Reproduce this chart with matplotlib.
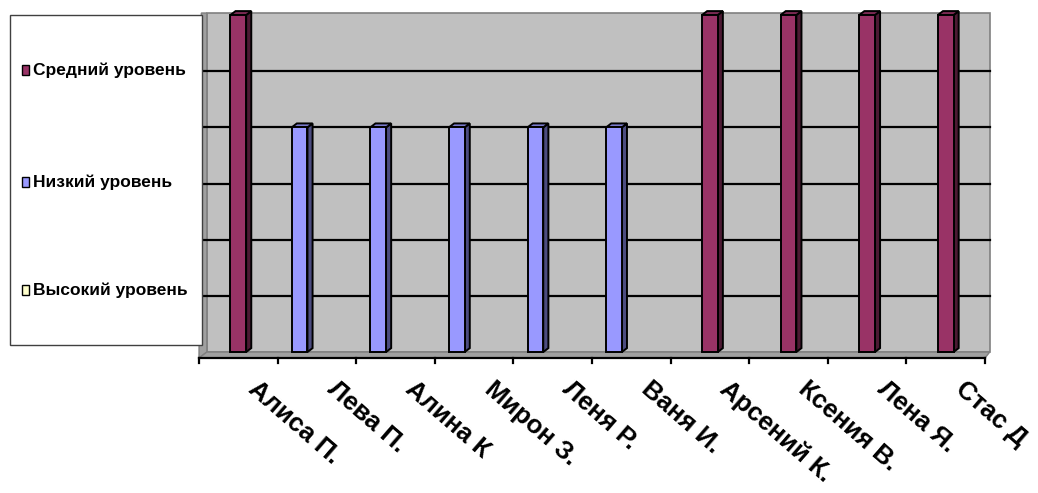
import matplotlib.pyplot as plt
from matplotlib.patches import Polygon, Rectangle
import numpy as np

students = ["Алиса П.", "Лева П.", "Алина К", "Мирон З.", "Леня Р.",
            "Ваня И.", "Арсений К.", "Ксения В.", "Лена Я.", "Стас Д"]
middle = [3, 0, 0, 0, 0, 0, 3, 3, 3, 3]
low = [0, 2, 2, 2, 2, 2, 0, 0, 0, 0]
high = [0, 0, 0, 0, 0, 0, 0, 0, 0, 0]
series_names = ["Средний уровень", "Низкий уровень", "Высокий уровень"]
colors = ["#993366", "#9999FF", "#FFFFCC"]
side_colors = ["#4C1A33", "#4C4C80", "#80806A"]
top_colors = ["#7A2952", "#7A7ACC", "#CCCCA3"]

fig = plt.figure(figsize=(10.38, 4.93), dpi=100)
# axes frame = front edge of the 3d floor
ax = fig.add_axes([199 / 1038, 1 - 358 / 493, 786 / 1038, 345 / 493])
ax.set_xlim(-0.5, 9.5)
ymin, ymax = -0.053, 3.018
ax.set_ylim(ymin, ymax)
ax.axis("off")

# back wall, left wall, floor
wl, wr = -0.40, 9.56
ax.add_patch(Polygon([(wl, 0), (wr, 0), (wr, ymax), (wl, ymax)], closed=True,
                     facecolor="#C0C0C0", edgecolor="#808080", lw=1.2, clip_on=False, zorder=0))
ax.add_patch(Polygon([(-0.5, ymin), (wl, 0), (wl, ymax), (-0.47, ymax)], closed=True,
                     facecolor="#A0A0A0", edgecolor="#808080", lw=1, clip_on=False, zorder=0))
ax.add_patch(Polygon([(-0.5, ymin), (9.5, ymin), (wr, 0), (wl, 0)], closed=True,
                     facecolor="#A0A0A0", edgecolor="#808080", lw=1, clip_on=False, zorder=0))
for g in np.arange(0.5, 3.0, 0.5):
    ax.plot([-0.47, wr], [g, g], color="black", lw=1.6, zorder=1, clip_on=False)

# bars with 3d side and top (zero values are not drawn)
x = np.arange(len(students))
width = 0.2
dx, dy = 0.065, 0.035
offsets = [0.0, -0.22, 0.22]
for vals, off, c, sc, tc in zip([middle, low, high], offsets, colors, side_colors, top_colors):
    vals = np.array(vals, dtype=float)
    shown = vals > 0
    if not shown.any():
        continue
    for xi, v in zip(x[shown], vals[shown]):
        l = xi + off - width / 2
        r = l + width
        ax.add_patch(Polygon([(r, 0), (r + dx, dy), (r + dx, v + dy), (r, v)], closed=True,
                             facecolor=sc, edgecolor="black", lw=1.4, zorder=3, clip_on=False))
        ax.add_patch(Polygon([(l, v), (r, v), (r + dx, v + dy), (l + dx, v + dy)], closed=True,
                             facecolor=tc, edgecolor="black", lw=1.4, zorder=3, clip_on=False))
    ax.bar(x[shown] + off, vals[shown], width=width, color=c, edgecolor="black", lw=1.4, zorder=4)

# x axis line and ticks
ax.plot([-0.5, 9.5], [ymin, ymin], color="black", lw=1.6, clip_on=False, zorder=5)
for t in np.arange(-0.5, 9.6, 1.0):
    ax.plot([t, t], [ymin, ymin - 0.045], color="black", lw=1.6, clip_on=False, zorder=5)
for xi, name in zip(x, students):
    ax.text(xi + 0.27, -0.22, name, rotation=-41, rotation_mode="anchor",
            ha="left", va="top", fontsize=18.5, fontweight="bold",
            family=["Liberation Sans", "DejaVu Sans"])

# legend box
fig.patches.append(Rectangle((10 / 1038, 1 - 345 / 493), 192 / 1038, 330 / 493,
                             transform=fig.transFigure, facecolor="white",
                             edgecolor="#404040", lw=1, zorder=10))
for name, c, py in zip(series_names, colors, [70, 182, 290]):
    fig.patches.append(Rectangle((22 / 1038, 1 - (py + 5) / 493), 7 / 1038, 10 / 493,
                                 transform=fig.transFigure, facecolor=c,
                                 edgecolor="black", lw=1, zorder=11))
    fig.text(33 / 1038, 1 - py / 493, name, ha="left", va="center", fontsize=12.5,
             family=["Liberation Sans Narrow", "Liberation Sans", "DejaVu Sans"],
             fontweight="bold", zorder=12)

fig.savefig("out.png", dpi=100)
